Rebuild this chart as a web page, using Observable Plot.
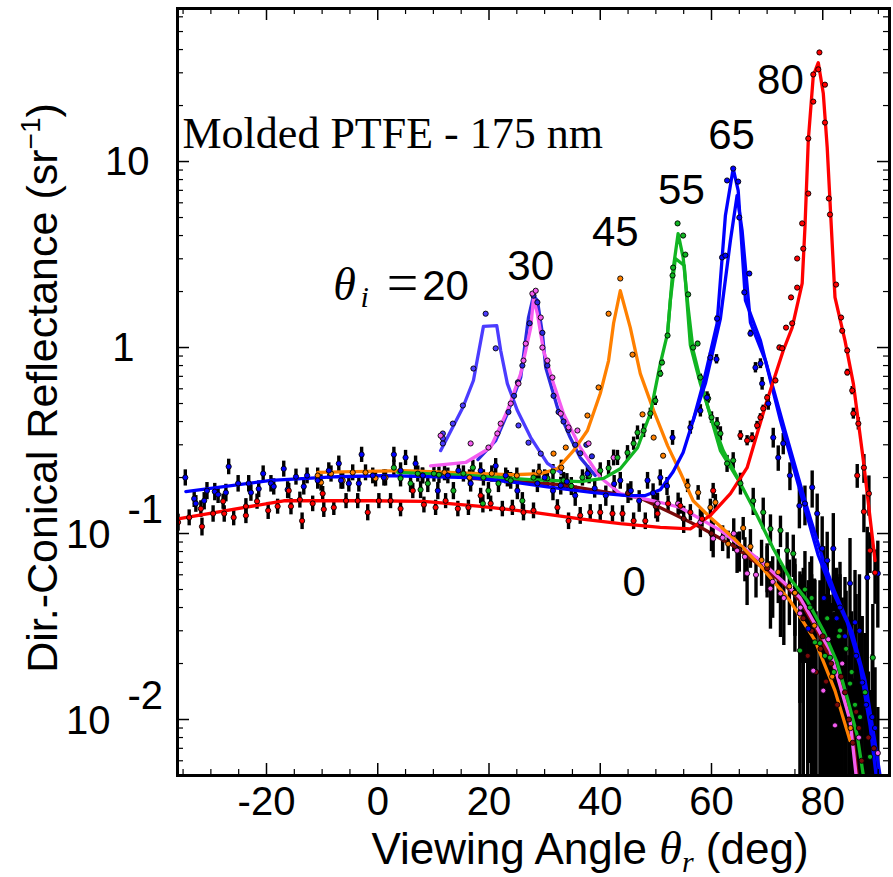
<!DOCTYPE html>
<html><head><meta charset="utf-8">
<script src="https://cdn.jsdelivr.net/npm/d3@7"></script>
<script src="https://cdn.jsdelivr.net/npm/@observablehq/plot@0.6"></script>
<style>body{margin:0;background:#fff;} #chart svg{display:block}</style>
</head><body><div id="chart"></div>
<script>
// ---------- axis ticks / labels ----------
const xMajor = [-20, 0, 20, 40, 60, 80];
const xMinor = [-35, -30, -25, -15, -10, -5, 5, 10, 15, 25, 30, 35, 45, 50, 55, 65, 70, 75, 85, 90];
const yDecades = [0.01, 0.1, 1, 10];
const yLabelValues = [10, 1, 0.1, 0.01];
const yLabelBase = ["10", "1", "10", "10"];
const yLabelExp = ["", "", "-1", "-2"];

// ---------- fit curves [angle, reflectance] ----------
const curve80 = [[-35.9,0.120],[-16.9,0.150],[-1.3,0.150],[8.3,0.149],[18.5,0.140],[28.0,0.130],[36.4,0.120],[43.6,0.113],[50.8,0.108],[56.2,0.106],[59.8,0.125],[63.4,0.164],[66.4,0.226],[69.7,0.488],[72.9,0.964],[74.5,1.28],[76.3,2.21],[76.8,4.42],[77.4,13.0],[78.3,29.0],[79.2,34.0],[80.1,23.2],[80.8,11.9],[82.2,1.86],[84.0,1.09],[85.5,0.64],[87.3,0.247],[89.4,0.0716]];
const curve65a = [[-34.5,0.168],[-19.2,0.193],[-7.2,0.202],[1.1,0.205],[16.7,0.200],[25.1,0.188],[30.5,0.178],[38.8,0.166],[44.9,0.160],[48.1,0.160],[50.8,0.172],[53.1,0.215],[54.9,0.273],[56.7,0.405],[58.5,0.640],[61.0,1.346],[62.5,5.13],[63.9,9.17],[64.8,6.98],[66.1,1.79],[68.8,1.09],[72.4,0.405],[75.9,0.170],[79.2,0.0762],[81.3,0.0525],[84.4,0.0333],[86.7,0.0195],[88.5,0.0093],[89.6,0.005]];
const curve65b = [[56.7,0.405],[58.9,0.640],[61.6,1.432],[63.4,3.76],[64.6,6.56],[65.5,4.26],[67.0,1.36],[69.7,0.851],[73.2,0.358],[76.8,0.150],[80.1,0.0716],[82.2,0.0482],[85.3,0.0294],[87.6,0.0162],[89.2,0.0082],[90.3,0.005]];
const curve55a = [[3.6,0.213],[16.7,0.205],[27.5,0.195],[36.4,0.190],[40.6,0.198],[43.6,0.223],[46.7,0.289],[49.0,0.442],[50.8,0.820],[52.1,1.19],[53.0,2.50],[54.0,4.10],[54.9,3.05],[55.8,1.64],[56.7,0.964],[58.5,0.587],[61.6,0.279],[65.2,0.186],[68.2,0.125],[71.1,0.083],[74.1,0.0573],[77.2,0.0436],[80.1,0.0301],[82.6,0.0202],[84.4,0.0131],[86.2,0.0082],[87.3,0.005]];
const curve55b = [[52.1,1.19],[52.6,1.79],[53.5,3.01],[55.1,2.76],[56.2,1.03],[58.0,0.640],[60.3,0.390],[62.1,0.279],[65.2,0.186]];
const curve45 = [[-10.8,0.213],[4.7,0.218],[18.5,0.210],[24.4,0.207],[29.3,0.210],[32.3,0.223],[35.2,0.279],[37.7,0.358],[40.0,0.566],[41.5,0.851],[42.4,1.35],[43.6,2.02],[45.4,1.28],[47.2,0.724],[49.6,0.458],[52.1,0.297],[54.4,0.213],[56.7,0.150],[59.8,0.122],[63.9,0.095],[68.8,0.067],[74.1,0.0436],[78.6,0.0266],[82.2,0.0143],[84.9,0.0077]];
const curve30p = [[9.5,0.231],[15.8,0.241],[20.3,0.290],[23.3,0.458],[25.7,0.724],[27.5,1.28],[28.0,1.83],[28.7,1.52],[29.8,0.964],[31.6,0.640],[33.4,0.441],[36.4,0.290],[40.0,0.200],[43.6,0.164],[49.6,0.150],[54.4,0.138],[61.6,0.104],[68.8,0.0716],[75.9,0.0453],[81.3,0.0235],[84.9,0.0099],[86.0,0.005]];
const curve30b = [[18.0,0.250],[21.2,0.316],[23.3,0.441],[25.7,0.690],[27.1,1.45],[28.0,1.90],[28.7,1.79],[29.6,1.19],[30.2,0.780],[32.3,0.476],[34.6,0.328],[36.4,0.256],[39.1,0.205]];
const curve20 = [[11.3,0.279],[15.3,0.476],[17.2,0.665],[19.0,1.30],[21.4,1.31],[22.1,0.964],[23.3,0.640],[25.1,0.458],[27.5,0.328],[30.5,0.238],[32.9,0.213]];
const curve0 = [[16.7,0.198],[32.9,0.183],[47.0,0.156],[53.0,0.128],[58.0,0.108],[63.9,0.086],[68.8,0.067],[72.9,0.054],[75.9,0.0436],[79.0,0.0301],[81.9,0.0195],[84.4,0.0123],[85.5,0.0077],[86.2,0.005]];

// ---------- measured points [angle, reflectance, error] ----------
const dots80 = [[-35.9,0.115,0.012],[-33.9,0.122,0.012],[-31.8,0.136,0.014],[-31.6,0.109,0.012],[-29.6,0.128,0.013],[-27.8,0.149,0.014],[-27.6,0.128,0.013],[-25.9,0.122,0.012],[-23.7,0.140,0.014],[-23.7,0.125,0.012],[-21.7,0.149,0.014],[-19.7,0.133,0.014],[-18.0,0.140,0.013],[-16.0,0.170,0.016],[-15.6,0.140,0.014],[-13.6,0.117,0.012],[-14.0,0.152,0.015],[-11.7,0.145,0.014],[-9.9,0.164,0.015],[-9.7,0.135,0.013],[-7.9,0.138,0.013],[-5.7,0.150,0.014],[-3.6,0.150,0.014],[-1.8,0.130,0.013],[0.2,0.150,0.014],[2.3,0.150,0.014],[4.1,0.136,0.013],[6.3,0.170,0.016],[8.3,0.143,0.014],[10.4,0.138,0.013],[12.2,0.150,0.014],[14.4,0.136,0.013],[16.3,0.138,0.013],[18.5,0.160,0.015],[20.3,0.145,0.014],[22.4,0.136,0.013],[24.2,0.138,0.013],[26.2,0.130,0.013],[28.0,0.133,0.013],[32.3,0.138,0.014],[34.3,0.117,0.012],[36.4,0.125,0.013],[38.2,0.130,0.013],[40.0,0.130,0.013],[42.2,0.128,0.013],[44.0,0.128,0.013],[46.0,0.117,0.012],[48.1,0.117,0.012],[50.3,0.128,0.013],[52.2,0.145,0.014],[54.4,0.141,0.014],[56.2,0.130,0.013],[58.3,0.120,0.012],[60.3,0.170,0.016],[65.2,0.337,0.02],[66.4,0.316,0.02],[67.3,0.328,0.02],[68.2,0.381,0.02],[68.8,0.421,0.02],[69.3,0.470,0.02],[70.0,0.538,0.02],[71.5,0.665,0.02],[72.2,1.0,0.03],[72.7,0.99,0.03],[73.4,1.28,0.03],[74.5,1.35,0.03],[74.3,1.86,0.04],[75.4,2.10,0.04],[75.4,3.01,0.05],[76.5,3.40,0.05],[76.3,4.65,0.06],[77.4,6.73,0.08],[77.4,13.3,0.1],[78.3,21.0,0.2],[78.3,29.4,0.2],[79.2,31.3,0.2],[79.4,38.6,0.3],[80.4,25.9,0.2],[80.4,16.2,0.1],[81.1,6.33,0.06],[81.3,5.19,0.05],[82.4,2.18,0.04],[83.3,1.45,0.03],[83.5,1.23,0.03],[84.4,0.964,0.03],[84.4,0.734,0.03],[85.3,0.587,0.03],[85.5,0.442,0.03],[86.4,0.390,0.03],[86.2,0.205,0.03],[87.4,0.226,0.04],[87.4,0.131,0.03],[88.3,0.164,0.04],[88.5,0.081,0.02],[89.4,0.0616,0.02]];
const dots65 = [[-34.6,0.200,0.02],[-33.0,0.154,0.016],[-32.7,0.145,0.015],[-31.2,0.150,0.016],[-30.7,0.170,0.018],[-29.3,0.168,0.018],[-28.7,0.162,0.017],[-27.3,0.166,0.018],[-26.8,0.229,0.022],[-25.1,0.186,0.019],[-23.2,0.186,0.019],[-22.8,0.166,0.017],[-21.4,0.174,0.018],[-20.6,0.210,0.021],[-19.2,0.186,0.019],[-18.7,0.179,0.018],[-16.9,0.223,0.022],[-16.2,0.172,0.018],[-14.7,0.202,0.02],[-13.3,0.179,0.018],[-12.7,0.205,0.02],[-10.8,0.193,0.02],[-8.8,0.218,0.022],[-7.0,0.238,0.023],[-6.6,0.193,0.02],[-5.2,0.186,0.019],[-3.4,0.186,0.019],[-2.9,0.266,0.025],[-0.9,0.205,0.02],[1.1,0.200,0.02],[2.9,0.266,0.025],[4.1,0.218,0.022],[5.0,0.256,0.024],[6.8,0.238,0.023],[8.1,0.205,0.02],[10.8,0.170,0.018],[12.6,0.205,0.02],[14.5,0.218,0.022],[16.7,0.186,0.019],[18.5,0.218,0.022],[21.2,0.231,0.022],[23.0,0.205,0.02],[25.1,0.170,0.018],[28.7,0.186,0.02],[30.0,0.200,0.02],[31.5,0.170,0.02],[32.9,0.181,0.02],[34.0,0.190,0.02],[35.5,0.160,0.02],[37.7,0.210,0.022],[39.0,0.175,0.02],[41.0,0.160,0.02],[42.5,0.185,0.02],[43.6,0.193,0.02],[45.5,0.170,0.02],[47.0,0.150,0.02],[48.5,0.193,0.02],[49.5,0.165,0.02],[50.8,0.200,0.02],[52.0,0.180,0.02],[53.0,0.328,0.03],[56.2,0.372,0.03],[58.0,0.458,0.035],[59.2,0.538,0.04],[59.8,0.883,0.05],[60.9,0.866,0.05],[61.0,1.43,0.05],[61.9,3.05,0.06],[62.5,3.12,0.06],[62.8,7.91,0.1],[63.9,9.17,0.1],[64.8,7.80,0.1],[65.0,5.00,0.08],[65.9,1.98,0.05],[66.8,2.50,0.06],[67.0,1.19,0.05],[67.9,0.780,0.05],[68.8,0.820,0.05],[69.1,0.640,0.05],[70.2,0.500,0.04],[71.1,0.328,0.04],[72.0,0.256,0.04],[72.9,0.305,0.04],[74.1,0.205,0.035],[75.8,0.141,0.035],[76.8,0.145,0.035],[78.1,0.177,0.04],[79.0,0.128,0.035],[79.9,0.083,0.04],[80.2,0.045,0.04],[81.9,0.083,0.045],[80.8,0.0716,0.03],[82.5,0.035,0.03],[84.0,0.028,0.03],[84.9,0.054,0.04],[83.1,0.040,0.03],[85.8,0.0333,0.03],[86.0,0.022,0.025],[86.6,0.030,0.03],[87.8,0.012,0.015],[89.4,0.009,0.01],[89.9,0.061,0.03],[88.0,0.058,0.05],[77.4,0.0308,0.025],[87.1,0.0158,0.02],[88.9,0.0103,0.012]];
const dots55 = [[2.9,0.226,0.022],[4.1,0.198,0.02],[5.9,0.186,0.02],[7.2,0.210,0.021],[7.7,0.172,0.018],[9.0,0.186,0.02],[10.1,0.210,0.021],[11.0,0.207,0.021],[13.6,0.170,0.018],[15.4,0.210,0.021],[17.1,0.226,0.022],[18.9,0.145,0.016],[19.9,0.170,0.018],[21.7,0.186,0.02],[23.3,0.198,0.02],[19.0,0.200,0.02],[23.9,0.193,0.02],[26.0,0.150,0.016],[28.0,0.200,0.02],[30.5,0.198,0.02],[31.5,0.215,0.02],[33.4,0.193,0.02],[34.8,0.180,0.02],[36.8,0.200,0.02],[38.0,0.205,0.02],[40.0,0.218,0.022],[41.5,0.225,0.022],[43.1,0.256,0.024],[44.9,0.272,0.025],[46.0,0.305,0.025],[46.7,0.349,0.03],[47.8,0.358,0.03],[49.0,0.442,0.03],[49.9,0.518,0.03],[50.8,0.724,0.03],[51.1,0.830,0.03],[52.1,1.16,0.03],[53.0,2.44,0.04],[53.1,2.69,0.04],[53.9,4.65,0.05],[54.9,4.00,0.05],[55.3,3.16,0.05],[55.8,1.93,0.04],[56.7,1.0,0.03],[57.5,1.05,0.03],[58.0,0.690,0.03],[59.4,0.532,0.03],[60.0,0.421,0.03],[61.0,0.390,0.03],[61.6,0.345,0.03],[62.8,0.238,0.025],[63.9,0.247,0.025],[65.2,0.186,0.025],[67.5,0.150,0.025],[69.3,0.130,0.025],[70.6,0.106,0.02],[72.4,0.104,0.02],[73.6,0.081,0.02],[74.7,0.078,0.02],[75.9,0.0235,0.03],[76.8,0.050,0.03],[77.7,0.040,0.03],[78.0,0.045,0.03],[78.6,0.026,0.03],[79.5,0.0257,0.03],[80.4,0.022,0.025],[80.8,0.035,0.03],[81.3,0.0215,0.025],[82.0,0.018,0.02],[82.9,0.028,0.03],[83.1,0.0301,0.03],[84.2,0.024,0.025],[84.9,0.0156,0.02],[85.2,0.018,0.02],[85.8,0.012,0.015],[86.7,0.0103,0.012],[87.6,0.014,0.015],[89.0,0.0215,0.02],[88.5,0.0063,0.008]];
const dots45 = [[-10.8,0.205,0.02],[-10.2,0.188,0.019],[-8.4,0.210,0.021],[-6.3,0.193,0.02],[-4.5,0.213,0.021],[-2.2,0.213,0.021],[-0.4,0.198,0.02],[1.4,0.200,0.02],[8.0,0.205,0.02],[12.0,0.213,0.021],[16.5,0.200,0.02],[20.5,0.210,0.021],[25.0,0.205,0.02],[29.0,0.215,0.021],[33.0,0.226,0.022],[31.6,0.269,0.005],[33.8,0.290,0.005],[37.7,0.431,0.005],[39.7,0.610,0.005],[41.5,1.52,0.01],[43.6,2.35,0.01],[45.8,0.916,0.005],[47.6,0.437,0.005],[49.6,0.328,0.005],[51.3,0.262,0.005],[55.7,0.181,0.015],[57.6,0.166,0.015],[59.8,0.138,0.015],[60.7,0.147,0.015],[63.0,0.088,0.015],[65.7,0.107,0.015],[67.0,0.085,0.02],[69.0,0.072,0.02],[70.0,0.068,0.02],[72.0,0.062,0.02],[74.0,0.052,0.02],[75.0,0.048,0.02],[78.5,0.032,0.025],[81.7,0.017,0.02],[85.0,0.009,0.012]];
const dots30p = [[11.3,0.336,0.005],[16.7,0.305,0.005],[19.9,0.290,0.005],[21.5,0.345,0.005],[22.1,0.390,0.005],[23.9,0.500,0.005],[25.3,0.640,0.005],[26.2,0.851,0.005],[26.6,1.05,0.01],[27.8,1.95,0.01],[28.4,2.02,0.01],[29.3,1.45,0.01],[29.6,1.0,0.01],[30.5,0.851,0.005],[31.4,0.690,0.005],[32.9,0.441,0.005],[34.3,0.372,0.005],[35.9,0.358,0.005],[37.9,0.305,0.005],[42.4,0.256,0.025],[50.3,0.145,0.02],[54.0,0.145,0.02],[58.0,0.115,0.02],[60.3,0.094,0.02],[62.0,0.095,0.015],[64.0,0.10,0.02],[64.6,0.081,0.02],[66.0,0.075,0.02],[66.4,0.061,0.02],[68.0,0.06,0.015],[70.6,0.0506,0.02],[71.0,0.055,0.02],[72.4,0.0476,0.02],[73.0,0.045,0.02],[75.9,0.0372,0.025],[76.0,0.04,0.02],[78.3,0.0183,0.02],[80.1,0.0143,0.018],[81.0,0.027,0.03],[82.2,0.0093,0.012],[83.5,0.020,0.025],[86.5,0.008,0.01],[89.9,0.0066,0.005]];
const dots30b = [[23.5,0.45,0.005],[24.5,0.55,0.005],[25.2,0.65,0.005],[26.0,0.80,0.005],[27.3,1.35,0.01],[28.0,1.90,0.01],[28.7,1.75,0.01],[29.6,1.20,0.01],[30.5,0.80,0.005],[31.6,0.55,0.005],[32.5,0.45,0.005],[33.4,0.40,0.005],[34.3,0.36,0.005],[35.5,0.30,0.005],[36.4,0.27,0.005],[37.5,0.30,0.005],[38.5,0.26,0.005]];
const dots20 = [[11.7,0.345,0.005],[11.7,0.305,0.005],[11.7,0.325,0.005],[13.5,0.390,0.005],[15.3,0.488,0.005],[17.2,0.771,0.005],[19.4,1.52,0.01],[21.2,0.990,0.005],[25.3,0.381,0.005],[27.1,0.308,0.005],[29.3,0.269,0.005]];
const dots0 = [[45,0.165,0.02],[50,0.14,0.02],[55,0.12,0.02],[60,0.10,0.02],[65,0.082,0.02],[70,0.065,0.02],[75,0.048,0.025],[76.5,0.035,0.03],[77.3,0.022,0.022],[78.0,0.030,0.03],[78.8,0.018,0.02],[79.6,0.024,0.025],[80,0.028,0.03],[80.6,0.016,0.018],[81.5,0.020,0.022],[82.6,0.012,0.014],[83.3,0.017,0.02],[84,0.014,0.02],[84.7,0.010,0.012],[85.4,0.0075,0.009],[86.0,0.011,0.013],[86.5,0.009,0.012],[87.0,0.006,0.008],[88.2,0.008,0.01],[89.2,0.007,0.009]];

// ---------- labels ----------
const peakLabels = [
  {t: "30", x: 27.5, y: 2.72},
  {t: "45", x: 42.7, y: 4.15},
  {t: "55", x: 54.6, y: 6.98},
  {t: "65", x: 63.6, y: 13.8},
  {t: "80", x: 72.4, y: 27.2},
  {t: "0",  x: 46.1, y: 0.0546}
];
const label20 = {x: 12.2, y: 2.13};
const sampleTitle = "Molded PTFE - 175 nm";

// colours
const C = {c80:"#ff0000", c65:"#0000ff", c55:"#11b522", c45:"#ff8000", c30p:"#f45cf0", c30b:"#2a2ae0", c20:"#4b3cff", c0:"#7a0a0a"};

const W = 893, H = 877, mL = 177, mR = 4, mT = 8, mB = 102;
const iW = W - mL - mR, iH = H - mT - mB;

const curves = [
  [curve0, C.c0], [curve20, C.c20], [curve30b, C.c30b], [curve30p, C.c30p], [curve45, C.c45],
  [curve55a, C.c55], [curve55b, C.c55], [curve65a, C.c65], [curve65b, C.c65], [curve80, C.c80]
];
const dotSets = [
  [dots0, C.c0], [dots20, C.c20], [dots30b, C.c30b], [dots30p, C.c30p], [dots45, C.c45],
  [dots55, C.c55], [dots65, C.c65], [dots80, C.c80]
];
const yMinor = [];
for (const d of [0.001, ...yDecades]) for (const k of [2,3,4,5,6,7,8,9]) { const v = d*k; if (v > 0.005 && v < 66.5) yMinor.push(v); }

const marks = [];
for (const [ds] of dotSets) {
  marks.push(Plot.ruleX(ds, {x: d => d[0], y1: d => Math.max(d[1] - d[2], 0.0005), y2: d => d[1] + d[2], stroke: "black", strokeWidth: 3.4, clip: true}));
}
for (const [c, col] of curves) {
  marks.push(Plot.line(c, {x: d => d[0], y: d => d[1], stroke: col, strokeWidth: 3.3, clip: true}));
}
for (const [ds, col] of dotSets) {
  marks.push(Plot.dot(ds, {x: d => d[0], y: d => d[1], r: 2.6, fill: col, stroke: "black", strokeWidth: 0.9, clip: true}));
}
// ticks (inside frame, all four sides)
marks.push(Plot.tickX(xMajor, {x: d => d, insetTop: iH - 12, stroke: "black", strokeWidth: 1.5}));
marks.push(Plot.tickX(xMinor, {x: d => d, insetTop: iH - 6, stroke: "black", strokeWidth: 1.2}));
marks.push(Plot.tickX(xMajor, {x: d => d, insetBottom: iH - 12, stroke: "black", strokeWidth: 1.5}));
marks.push(Plot.tickX(xMinor, {x: d => d, insetBottom: iH - 6, stroke: "black", strokeWidth: 1.2}));
marks.push(Plot.tickY(yDecades, {y: d => d, insetRight: iW - 12, stroke: "black", strokeWidth: 1.5}));
marks.push(Plot.tickY(yMinor, {y: d => d, insetRight: iW - 6, stroke: "black", strokeWidth: 1.2}));
marks.push(Plot.tickY(yDecades, {y: d => d, insetLeft: iW - 12, stroke: "black", strokeWidth: 1.5}));
marks.push(Plot.tickY(yMinor, {y: d => d, insetLeft: iW - 6, stroke: "black", strokeWidth: 1.2}));
marks.push(Plot.frame({stroke: "black", strokeWidth: 3}));
// tick labels
marks.push(Plot.text(xMajor, {x: d => d, frameAnchor: "bottom", dy: 27, text: d => String(d), fontSize: 40, lineAnchor: "middle"}));
const yl = yLabelValues.map((v, i) => ({v, b: yLabelBase[i], e: yLabelExp[i]}));
marks.push(Plot.text(yl.filter(d => d.b === "10" && !d.e), {y: "v", frameAnchor: "left", dx: -28, dy: 1, text: "b", textAnchor: "end", fontSize: 40, lineAnchor: "middle"}));
marks.push(Plot.text(yl.filter(d => d.b === "1"), {y: "v", frameAnchor: "left", dx: -43, dy: 1, text: "b", textAnchor: "end", fontSize: 40, lineAnchor: "middle"}));
marks.push(Plot.text(yl.filter(d => d.e), {y: "v", frameAnchor: "left", dx: -67, dy: 2, text: "b", textAnchor: "end", fontSize: 40, lineAnchor: "middle"}));
marks.push(Plot.text(yl.filter(d => d.e), {y: "v", frameAnchor: "left", dx: -50, dy: -23, text: "e", textAnchor: "start", fontSize: 40, lineAnchor: "middle"}));
// peak labels
marks.push(Plot.text(peakLabels, {x: "x", y: "y", text: "t", fontSize: 42, lineAnchor: "middle"}));
marks.push(Plot.text([label20], {x: "x", y: "y", text: () => "20", fontSize: 42, lineAnchor: "middle"}));
marks.push(Plot.text([label20], {x: "x", y: "y", dx: -43, dy: -2, text: () => "=", fontSize: 56, fontFamily: "Liberation Serif", lineAnchor: "middle"}));
marks.push(Plot.text([label20], {x: "x", y: "y", dx: -101, dy: -1, text: () => "θ", fontSize: 46, fontStyle: "italic", fontFamily: "Liberation Serif", lineAnchor: "middle"}));
marks.push(Plot.text([label20], {x: "x", y: "y", dx: -81, dy: 11, text: () => "i", fontSize: 30, fontStyle: "italic", fontFamily: "Liberation Serif", lineAnchor: "middle"}));
marks.push(Plot.text([sampleTitle], {frameAnchor: "top-left", dx: 5, dy: 125, text: d => d, textAnchor: "start", fontSize: 44, fontFamily: "Liberation Serif", lineAnchor: "middle"}));

const chart = Plot.plot({
  width: W, height: H,
  marginLeft: mL, marginRight: mR, marginTop: mT, marginBottom: mB,
  style: {fontFamily: "'Liberation Sans', Arial, sans-serif", background: "white", color: "black"},
  x: {domain: [-36, 92], axis: null},
  y: {type: "log", domain: [0.005, 66.5], axis: null},
  marks
});

document.getElementById("chart").appendChild(chart);
const svg = d3.select(chart);

// axis titles with sub/superscripts
const yt = svg.append("text")
  .attr("transform", "translate(57,388) rotate(-90)")
  .attr("text-anchor", "middle")
  .attr("font-family", "'Liberation Sans', Arial, sans-serif")
  .attr("font-size", 43).attr("fill", "black");
yt.append("tspan").text("Dir.-Conical Reflectance (sr");
yt.append("tspan").attr("font-size", 28).attr("dy", -17).text("\u22121");
yt.append("tspan").attr("font-size", 43).attr("dy", 17).text(")");

const xt = svg.append("text")
  .attr("x", 590).attr("y", 864)
  .attr("text-anchor", "middle")
  .attr("font-family", "'Liberation Sans', Arial, sans-serif")
  .attr("font-size", 44).attr("fill", "black");
xt.append("tspan").text("Viewing Angle ");
xt.append("tspan").attr("font-family", "'Liberation Serif', serif").attr("font-style", "italic").attr("font-size", 46).text("\u03b8");
xt.append("tspan").attr("font-family", "'Liberation Serif', serif").attr("font-style", "italic").attr("font-size", 30).attr("dy", 8).text("r");
xt.append("tspan").attr("dy", -8).text(" (deg)");
</script>
</body></html>
